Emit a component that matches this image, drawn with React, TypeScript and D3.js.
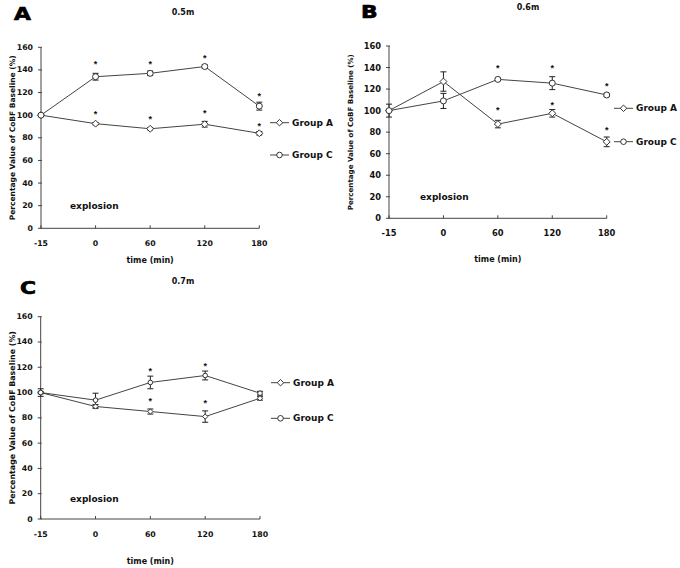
import React from "react";
import * as d3 from "d3";

const categories = ["-15", "0", "60", "120", "180"];
const yTicks = [0, 20, 40, 60, 80, 100, 120, 140, 160];

// Panel A (0.5m)
const aGroupA = [100, 92.5, 88, 92, 84];
const aGroupAErr = [0, 1, 1, 2.5, 1.5];
const aGroupC = [100, 134, 137, 143, 108];
const aGroupCErr = [0, 3, 2, 1.5, 3.5];
const aStarsA = [null, 103, 98.5, 104, 92.5];
const aStarsC = [null, 147, 147, 152, 119];

// Panel B (0.6m)
const bGroupA = [100, 127, 87.5, 97.5, 71];
const bGroupAErr = [0, 9, 3.5, 3.5, 4.5];
const bGroupC = [100, 109, 129, 125.5, 114.5];
const bGroupCErr = [6, 7, 1, 6, 1.5];
const bStarsA = [null, null, 102, 107, 84];
const bStarsC = [null, null, 141, 141, 124.5];

// Panel C (0.7m)
const cGroupA = [100, 89, 85, 81, 95.5];
const cGroupAErr = [1, 1.5, 2, 4.5, 1.5];
const cGroupC = [100, 94, 108, 113.5, 99.5];
const cGroupCErr = [3, 5.5, 5, 3.5, 1.5];
const cStarsA = [null, null, 95, 93.5, null];
const cStarsC = [null, null, 118.5, 122.5, null];

const FONT = "'DejaVu Sans', 'Liberation Sans', sans-serif";
const STARFONT = "'Liberation Sans', Arial, sans-serif";
const LINE = "#444";

type PanelProps = {
  letter: string;
  title: string;
  x0: number;
  x1: number;
  yTop: number;
  yBot: number;
  letterX: number;
  letterY: number;
  titleX: number;
  titleY: number;
  yTitleX: number;
  xTitleY: number;
  legX: number;
  legYA: number;
  legYC: number;
  explX: number;
  explY: number;
  r: number;
  groupA: number[];
  groupAErr: number[];
  groupC: number[];
  groupCErr: number[];
  starsA: (number | null)[];
  starsC: (number | null)[];
  tickFont: number;
  yTitleFont: number;
};

function Diamond({ x, y, r }: { x: number; y: number; r: number }) {
  const s = r * 1.15;
  return (
    <path
      d={`M${x},${y - s}L${x + s},${y}L${x},${y + s}L${x - s},${y}Z`}
      fill="#fff"
      stroke="#333"
      strokeWidth={1}
    />
  );
}

function Circle({ x, y, r }: { x: number; y: number; r: number }) {
  return <circle cx={x} cy={y} r={r} fill="#fff" stroke="#333" strokeWidth={1} />;
}

function Panel(p: PanelProps) {
  const xs = d3.scalePoint<string>().domain(categories).range([p.x0, p.x1]).padding(0);
  const ys = d3.scaleLinear().domain([0, 160]).range([p.yBot, p.yTop]);
  const line = d3
    .line<number>()
    .x((_, i) => xs(categories[i]) as number)
    .y((d) => ys(d));

  const errBars = (vals: number[], errs: number[], key: string) =>
    vals.map((v, i) =>
      errs[i] > 0 ? (
        <g key={key + i} stroke="#222" strokeWidth={1}>
          <line x1={xs(categories[i])} x2={xs(categories[i])} y1={ys(v + errs[i])} y2={ys(v - errs[i])} />
          <line x1={(xs(categories[i]) as number) - 3} x2={(xs(categories[i]) as number) + 3} y1={ys(v + errs[i])} y2={ys(v + errs[i])} />
          <line x1={(xs(categories[i]) as number) - 3} x2={(xs(categories[i]) as number) + 3} y1={ys(v - errs[i])} y2={ys(v - errs[i])} />
        </g>
      ) : null
    );

  const stars = (vals: (number | null)[], key: string) =>
    vals.map((v, i) =>
      v == null ? null : (
        <text
          key={key + i}
          x={xs(categories[i])}
          y={ys(v) + 5}
          textAnchor="middle"
          fontSize={9}
          fontWeight="bold"
          fontFamily={STARFONT}
          fill="#111"
        >
          *
        </text>
      )
    );

  const midX = (p.x0 + p.x1) / 2;
  const midY = (p.yTop + p.yBot) / 2;

  return (
    <g>
      <text
        transform={`translate(${p.letterX},${p.letterY}) scale(1.18,1)`}
        fontSize={18.5}
        fontWeight={900}
        fontFamily={FONT}
        fill="#000"
        stroke="#000"
        strokeWidth={0.7}
      >
        {p.letter}
      </text>
      <text x={p.titleX} y={p.titleY} textAnchor="middle" dominantBaseline="central" fontSize={8} fontWeight="bold" fontFamily={FONT} fill="#111">
        {p.title}
      </text>
      {/* y axis */}
      <line x1={p.x0} x2={p.x0} y1={p.yBot} y2={p.yTop} stroke={LINE} strokeWidth={1} />
      {yTicks.map((t) => (
        <g key={"yt" + t}>
          <line x1={p.x0 - 3} x2={p.x0 + 1} y1={ys(t)} y2={ys(t)} stroke={LINE} strokeWidth={1} />
          <text x={p.x0 - 8} y={ys(t)} textAnchor="end" dominantBaseline="central" fontSize={p.tickFont} fontWeight="bold" fontFamily={FONT} fill="#111">
            {t}
          </text>
        </g>
      ))}
      {/* x axis */}
      <line x1={p.x0} x2={p.x1} y1={p.yBot} y2={p.yBot} stroke={LINE} strokeWidth={1} />
      {categories.map((c) => (
        <g key={"xt" + c}>
          <line x1={xs(c)} x2={xs(c)} y1={p.yBot} y2={p.yBot - 3} stroke={LINE} strokeWidth={1} />
          <text x={xs(c)} y={p.yBot + 15} textAnchor="middle" dominantBaseline="central" fontSize={p.tickFont} fontWeight="bold" fontFamily={FONT} fill="#111">
            {c}
          </text>
        </g>
      ))}
      <text x={midX} y={p.xTitleY} textAnchor="middle" dominantBaseline="central" fontSize={8} fontWeight="bold" fontFamily={FONT} fill="#111">
        time (min)
      </text>
      <text
        transform={`translate(${p.yTitleX},${midY}) rotate(-90)`}
        textAnchor="middle"
        dominantBaseline="central"
        fontSize={p.yTitleFont}
        fontWeight="bold"
        fontFamily={FONT}
        fill="#111"
      >
        Percentage Value of CoBF Baseline (%)
      </text>
      <text x={p.explX} y={p.explY} dominantBaseline="central" fontSize={9} fontWeight="bold" fontFamily={FONT} fill="#111">
        explosion
      </text>
      {/* series lines */}
      <path d={line(p.groupA) as string} fill="none" stroke={LINE} strokeWidth={1} />
      <path d={line(p.groupC) as string} fill="none" stroke={LINE} strokeWidth={1} />
      {errBars(p.groupA, p.groupAErr, "ea")}
      {errBars(p.groupC, p.groupCErr, "ec")}
      {p.groupA.map((v, i) => (
        <Diamond key={"da" + i} x={xs(categories[i]) as number} y={ys(v)} r={p.r} />
      ))}
      {p.groupC.map((v, i) => (
        <Circle key={"cc" + i} x={xs(categories[i]) as number} y={ys(v)} r={p.r} />
      ))}
      {stars(p.starsA, "sa")}
      {stars(p.starsC, "sc")}
      {/* legend */}
      <line x1={p.legX} x2={p.legX + 19} y1={p.legYA} y2={p.legYA} stroke={LINE} strokeWidth={1} />
      <Diamond x={p.legX + 9.5} y={p.legYA} r={2.8} />
      <text x={p.legX + 22} y={p.legYA} dominantBaseline="central" fontSize={9} fontWeight="bold" fontFamily={FONT} fill="#111">
        Group A
      </text>
      <line x1={p.legX} x2={p.legX + 19} y1={p.legYC} y2={p.legYC} stroke={LINE} strokeWidth={1} />
      <Circle x={p.legX + 9.5} y={p.legYC} r={2.8} />
      <text x={p.legX + 22} y={p.legYC} dominantBaseline="central" fontSize={9} fontWeight="bold" fontFamily={FONT} fill="#111">
        Group C
      </text>
    </g>
  );
}

export default function App() {
  return (
    <svg width={680} height={568} style={{ position: "absolute", left: 0, top: 0, background: "#fff" }}>
      <rect width={680} height={568} fill="#fff" />
      <Panel
        letter="A" title="0.5m"
        x0={41} x1={259.3} yTop={47.3} yBot={228.3}
        letterX={14} letterY={19.5} titleX={183} titleY={12.5}
        yTitleX={12} xTitleY={260.7}
        legX={270} legYA={122.7} legYC={155}
        explX={70} explY={206}
        r={3}
        groupA={aGroupA} groupAErr={aGroupAErr} groupC={aGroupC} groupCErr={aGroupCErr}
        starsA={aStarsA} starsC={aStarsC}
        tickFont={7.8} yTitleFont={7.5}
      />
      <Panel
        letter="B" title="0.6m"
        x0={389} x1={606.7} yTop={46} yBot={218.3}
        letterX={361} letterY={17.5} titleX={528} titleY={7}
        yTitleX={350} xTitleY={259}
        legX={614} legYA={108.3} legYC={141.7}
        explX={420} explY={197}
        r={3}
        groupA={bGroupA} groupAErr={bGroupAErr} groupC={bGroupC} groupCErr={bGroupCErr}
        starsA={bStarsA} starsC={bStarsC}
        tickFont={8.3} yTitleFont={7.1}
      />
      <Panel
        letter="C" title="0.7m"
        x0={40.7} x1={260} yTop={316.7} yBot={519}
        letterX={20} letterY={293.5} titleX={183} titleY={281}
        yTitleX={12} xTitleY={561}
        legX={271} legYA={382.7} legYC={418.3}
        explX={70} explY={499}
        r={2.3}
        groupA={cGroupA} groupAErr={cGroupAErr} groupC={cGroupC} groupCErr={cGroupCErr}
        starsA={cStarsA} starsC={cStarsC}
        tickFont={7.8} yTitleFont={7.9}
      />
    </svg>
  );
}
